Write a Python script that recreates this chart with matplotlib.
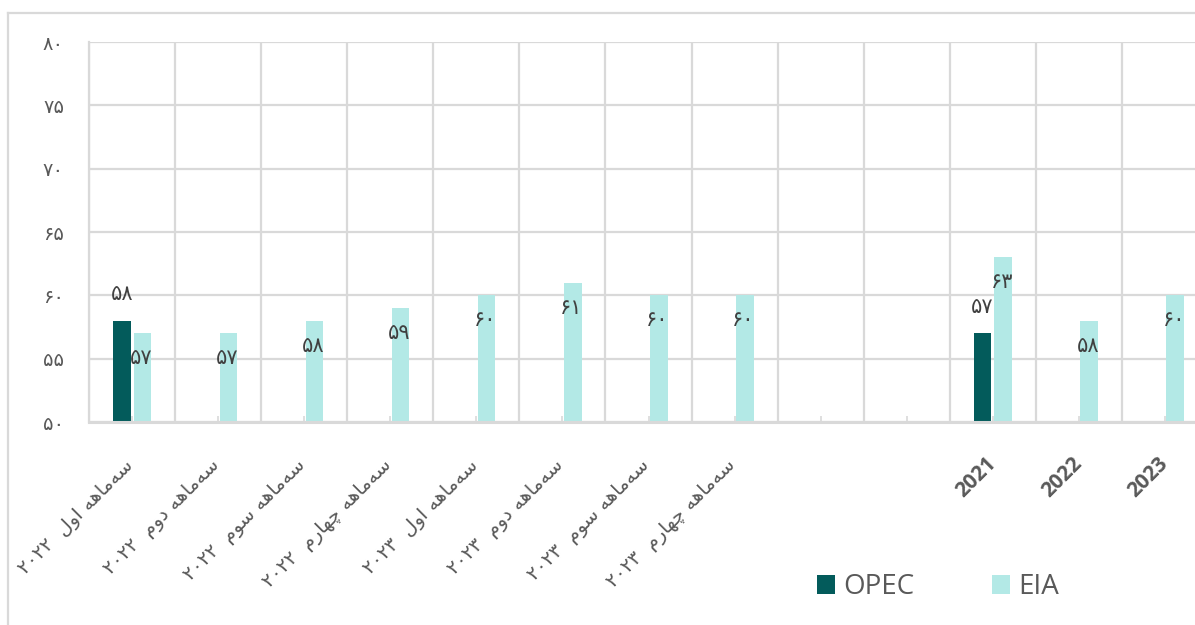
import numpy as np
import matplotlib
matplotlib.use("Agg")
import matplotlib.pyplot as plt
from matplotlib.lines import Line2D
from matplotlib.patches import Patch

# ---------------- data ----------------
categories = ["سه‌ماهه اول  ۲۰۲۲", "سه‌ماهه دوم  ۲۰۲۲", "سه‌ماهه سوم  ۲۰۲۲",
              "سه‌ماهه چهارم  ۲۰۲۲", "سه‌ماهه اول  ۲۰۲۳", "سه‌ماهه دوم  ۲۰۲۳",
              "سه‌ماهه سوم  ۲۰۲۳", "سه‌ماهه چهارم  ۲۰۲۳", "", "", "2021", "2022", "2023"]
opec = [58, None, None, None, None, None, None, None, None, None, 57, None, None]
eia = [57, 57, 58, 59, 60, 61, 60, 60, None, None, 63, 58, 60]
series_names = ["OPEC", "EIA"]
y_ticks = [50, 55, 60, 65, 70, 75, 80]

# ---------------- helpers (Persian shaping for matplotlib) ----------------
FA_DIGITS = str.maketrans("0123456789", "۰۱۲۳۴۵۶۷۸۹")

def fa_num(v):
    return str(int(v)).translate(FA_DIGITS)

FORMS = {
    '\u0633': ('\uFEB1', '\uFEB2', '\uFEB3', '\uFEB4'),
    '\u0647': ('\uFEE9', '\uFEEA', '\uFEEB', '\uFEEC'),
    '\u0645': ('\uFEE1', '\uFEE2', '\uFEE3', '\uFEE4'),
    '\u0644': ('\uFEDD', '\uFEDE', '\uFEDF', '\uFEE0'),
    '\u0686': ('\uFB7A', '\uFB7B', '\uFB7C', '\uFB7D'),
    '\u0627': ('\uFE8D', '\uFE8E', None, None),
    '\u0648': ('\uFEED', '\uFEEE', None, None),
    '\u062F': ('\uFEA9', '\uFEAA', None, None),
    '\u0631': ('\uFEAD', '\uFEAE', None, None),
}

def is_letter(c):
    return c in FORMS

def dual(c):
    return c in FORMS and FORMS[c][2] is not None

def shape_word(w):
    out = []
    n = len(w)
    for i, c in enumerate(w):
        if c == '\u200c':
            continue
        if not is_letter(c):
            out.append(c)
            continue
        prev = w[i - 1] if i > 0 else ''
        nxt = w[i + 1] if i + 1 < n else ''
        jp = dual(prev)
        jn = dual(c) and is_letter(nxt)
        iso, fin, ini, med = FORMS[c]
        if jp and jn:
            out.append(med)
        elif jp:
            out.append(fin)
        elif jn:
            out.append(ini)
        else:
            out.append(iso)
    return ''.join(out)

def visual(text):
    if not any(is_letter(c) for c in text):
        return text
    parts = text.split(' ')
    vis = []
    for p in parts:
        if any(is_letter(c) for c in p):
            vis.append(shape_word(p)[::-1])
        else:
            vis.append(p)
    return ' '.join(vis[::-1])

# ---------------- style ----------------
GRID = "#d9d9d9"
TXT = "#595959"
LBL = "#404040"
C_OPEC = "#035b5b"
C_EIA = "#b3e9e6"
FA_FONT = ["DejaVu Sans"]

W, H = 1195, 625
fig = plt.figure(figsize=(W / 100, H / 100), dpi=100)
ax = fig.add_axes([89 / W, 1 - 422 / H, (1208 - 89) / W, (422 - 42) / H])

x = np.arange(len(categories))
bw = 0.205
off = 0.12

op_vals = np.array([np.nan if v is None else v for v in opec], dtype=float)
ei_vals = np.array([np.nan if v is None else v for v in eia], dtype=float)

ax.bar(x - off, op_vals - 50, bw, bottom=50, color=C_OPEC, zorder=3)
ax.bar(x + off, ei_vals - 50, bw, bottom=50, color=C_EIA, zorder=3)

for xi, v in zip(x, op_vals):
    if not np.isnan(v):
        ax.annotate(fa_num(v), (xi - off, v), xytext=(0, 19), textcoords="offset points",
                    ha="center", va="center", fontsize=15, color=LBL, family=FA_FONT, zorder=5)
for xi, v in zip(x, ei_vals):
    if not np.isnan(v):
        ax.annotate(fa_num(v), (xi + off, v), xytext=(-1, -18), textcoords="offset points",
                    ha="center", va="center", fontsize=15, color=LBL, family=FA_FONT, zorder=5)

ax.set_xlim(-0.5, len(categories) - 0.5)
ax.set_ylim(50, 80)
ax.set_yticks(y_ticks)
ax.set_yticklabels([fa_num(t) for t in y_ticks], fontsize=14, color=TXT, family=FA_FONT)

ax.set_xticks(x)
ax.set_xticks(np.arange(len(categories) + 1) - 0.5, minor=True)
ax.set_xticklabels([])
ax.tick_params(axis="x", which="major", direction="in", length=4, width=1.2, color=GRID)
ax.tick_params(axis="x", which="minor", length=0)
ax.tick_params(axis="y", length=0, pad=18)

ax.grid(axis="y", which="major", color=GRID, linewidth=1.6, zorder=0)
ax.grid(axis="x", which="minor", color=GRID, linewidth=1.6, zorder=0)
for s in ["top", "right"]:
    ax.spines[s].set_visible(False)
ax.spines["left"].set_color(GRID)
ax.spines["left"].set_linewidth(1.6)
ax.spines["bottom"].set_color(GRID)
ax.spines["bottom"].set_linewidth(2.2)
ax.spines["bottom"].set_zorder(4)

# category labels
for xi, lab in zip(x, categories):
    if not lab:
        continue
    if any(is_letter(c) for c in lab):
        ax.annotate(visual(lab), (xi, 0), xycoords=("data", "axes fraction"),
                    xytext=(-1, -29), textcoords="offset points",
                    rotation=45, rotation_mode="anchor", ha="right", va="center",
                    fontsize=14, color=TXT, family=FA_FONT)
    else:
        ax.annotate(lab, (xi, 0), xycoords=("data", "axes fraction"),
                    xytext=(0, -28), textcoords="offset points",
                    rotation=45, rotation_mode="anchor", ha="right", va="center",
                    fontsize=15, fontweight="bold", color=TXT, family=["Open Sans", "DejaVu Sans"])

# outer frame (chart area border)
fig.add_artist(Line2D([8 / W, 8 / W], [-0.1, 1 - 13 / H], transform=fig.transFigure,
                      color=GRID, linewidth=1.6))
fig.add_artist(Line2D([8 / W, 1.1], [1 - 13 / H, 1 - 13 / H], transform=fig.transFigure,
                      color=GRID, linewidth=1.6))

handles = [Patch(facecolor=C_OPEC), Patch(facecolor=C_EIA)]
fig.legend(handles, series_names, loc="center left", bbox_to_anchor=(817 / W, 1 - 587 / H),
           ncol=2, frameon=False, borderpad=0, borderaxespad=0,
           handlelength=0.65, handleheight=0.65, handletextpad=0.3, columnspacing=2.8,
           prop={"family": ["Open Sans", "DejaVu Sans"], "size": 20}, labelcolor=TXT)

fig.savefig("out.png", dpi=100, facecolor="white")
